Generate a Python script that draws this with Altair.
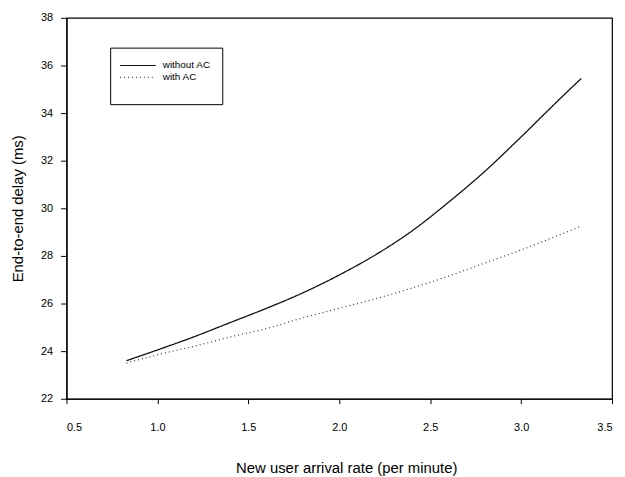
import altair as alt
import pandas as pd

rate = [0.83, 1.0, 1.2, 1.4, 1.6, 1.8, 2.0, 2.2, 2.4, 2.6, 2.8, 3.0, 3.2, 3.33]
without_ac = [23.6, 24.05, 24.6, 25.2, 25.8, 26.45, 27.2, 28.05, 29.05, 30.25, 31.55, 33.0, 34.5, 35.45]
with_ac = [23.5, 23.85, 24.2, 24.6, 24.95, 25.4, 25.8, 26.2, 26.65, 27.15, 27.7, 28.25, 28.85, 29.25]
series_names = ["without AC", "with AC"]

rows = []
for name, vals in zip(series_names, [without_ac, with_ac]):
    for x, y in zip(rate, vals):
        rows.append({"rate": x, "delay": y, "series": name})
df = pd.DataFrame(rows)

FONT = "Liberation Sans"

chart = alt.Chart(df).mark_line(strokeWidth=1.3, interpolate="monotone").encode(
    x=alt.X("rate:Q",
            scale=alt.Scale(domain=[0.5, 3.5], nice=False, zero=False),
            axis=alt.Axis(values=[0.5, 1.0, 1.5, 2.0, 2.5, 3.0, 3.5], format=".1f",
                          title="New user arrival rate (per minute)", grid=False,
                          tickSize=5, labelPadding=18, titlePadding=28, titleX=282,
                          domainColor="black", tickColor="black")),
    y=alt.Y("delay:Q",
            scale=alt.Scale(domain=[22, 38], nice=False, zero=False),
            axis=alt.Axis(values=list(range(22, 39, 2)),
                          title="End-to-end delay (ms)", grid=False,
                          tickSize=6, labelPadding=8, titlePadding=15,
                          domainColor="black", tickColor="black")),
    color=alt.Color("series:N", scale=alt.Scale(domain=series_names, range=["#111111", "#444444"]),
                    legend=alt.Legend(title=" ", titleOrient="bottom", titleFontSize=11, titlePadding=0,
                                      orient="none", legendX=44, legendY=30,
                                      strokeColor="black", fillColor="white", padding=11,
                                      symbolType="M-3,0H3", symbolSize=144, symbolStrokeWidth=1.2,
                                      symbolOffset=10,
                                      labelOffset=18, rowPadding=0, labelFontSize=10, labelFont=FONT,
                                      labelColor="black")),
    strokeDash=alt.StrokeDash("series:N", scale=alt.Scale(domain=series_names, range=[[1, 0], [1, 3]]),
                              legend=None),
).properties(
    width=550, height=384,
    autosize=alt.AutoSizeParams(type="none"),
    padding={"left": 59, "top": 8, "right": 5, "bottom": 85},
).configure_view(
    stroke="black", strokeWidth=1.2
).configure_axis(
    labelFont=FONT, titleFont=FONT, labelFontSize=11, titleFontSize=15,
    titleFontWeight="normal", labelColor="black", titleColor="black", domainWidth=1.2
)

chart.save("out.html", embed_options={"renderer": "svg", "actions": False})
